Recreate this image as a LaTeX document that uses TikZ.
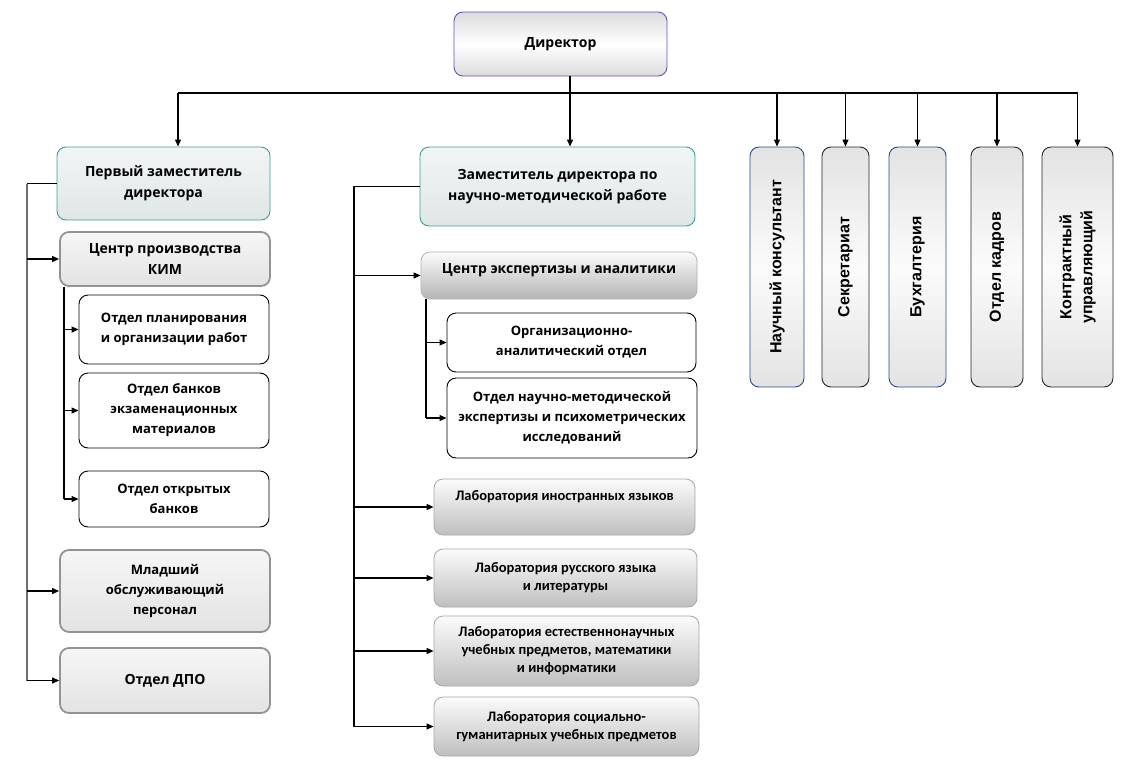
\documentclass[tikz,border=0pt]{standalone}
\usepackage{fontspec}
\setmainfont{Open Sans}
\newfontfamily\calfont{Carlito}
\newfontfamily\arialfont{Liberation Sans}
\usetikzlibrary{arrows.meta}
\definecolor{purp}{HTML}{6A4FB0}
\definecolor{teal2}{HTML}{3E9E9B}
\definecolor{navy}{HTML}{2B4A86}
\definecolor{busgray}{HTML}{707070}
\definecolor{deptop}{HTML}{F1F5F5}
\definecolor{depbot}{HTML}{E0E6E6}
\tikzset{
  base/.style={rounded corners=9pt, align=center, inner sep=2pt, font=\bfseries\fontsize{14}{21}\selectfont},
  dirbox/.style={base, draw=purp, line width=0.9pt, top color=gray!28, bottom color=gray!28, middle color=white},
  depbox/.style={base, draw=teal2, line width=0.9pt, top color=deptop, bottom color=depbot},
  gbox/.style={base, draw=gray!85, line width=1.8pt, top color=gray!7, bottom color=gray!22},
  wbox/.style={base, draw=black, line width=0.9pt, fill=white, font=\bfseries\fontsize{13}{20}\selectfont},
  labbox/.style={base, draw=gray!70, line width=0.8pt, top color=gray!3, bottom color=gray!50, font=\calfont\bfseries\fontsize{14.5}{18}\selectfont},
  vbox/.style={base, rotate=90, line width=0.9pt, minimum width=240pt, top color=gray!22, bottom color=gray!22, middle color=gray!3, font=\arialfont\bfseries\fontsize{16}{21}\selectfont},
  arr/.style={-{Triangle[length=7pt,width=6pt]}, line width=1.1pt},
  ln/.style={line width=1.1pt}
}
\begin{document}
\begin{tikzpicture}[x=1pt,y=-1pt]
\useasboundingbox (0,0) rectangle (1128,772);
% top
\node[dirbox, minimum width=213pt, minimum height=64pt] (dir) at (560.5,44) {Директор};
% first deputy branch
\node[depbox, minimum width=213pt, minimum height=73pt] (dep1) at (163.5,183.5) {Первый заместитель\\директора};
\node[gbox, minimum width=210pt, minimum height=54pt] (kim) at (165,259) {Центр производства\\КИМ};
\node[wbox, minimum width=190pt, minimum height=69pt] (plan) at (174,329.5) {Отдел планирования\\и организации работ};
\node[wbox, minimum width=190pt, minimum height=75pt] (bank) at (174,410.5) {Отдел банков\\экзаменационных\\материалов};
\node[wbox, minimum width=190pt, minimum height=56pt] (open) at (174,499) {Отдел открытых\\банков};
\node[gbox, minimum width=210pt, minimum height=82pt, font=\bfseries\fontsize{13}{20}\selectfont] (mlad) at (165,591) {Младший\\обслуживающий\\персонал};
\node[gbox, minimum width=210pt, minimum height=65pt] (dpo) at (165,680.5) {Отдел ДПО};
% second deputy branch
\node[depbox, minimum width=275pt, minimum height=79pt] (dep2) at (557.5,186.5) {Заместитель директора по\\научно-методической работе};
\node[labbox, draw=gray!60, bottom color=gray!58, font=\bfseries\fontsize{14}{20}\selectfont, minimum width=276pt, minimum height=47pt] (cexp) at (559,275.5) {\raisebox{2pt}[0pt][0pt]{Центр экспертизы и аналитики}};
\node[wbox, minimum width=249pt, minimum height=59pt] (org) at (571.5,342.5) {Организационно-\\аналитический отдел};
\node[wbox, minimum width=250pt, minimum height=80pt] (nm) at (572,418) {Отдел научно-методической\\экспертизы и психометрических\\исследований};
\node[labbox, minimum width=261pt, minimum height=56pt] (lab1) at (564.5,507) {\raisebox{7pt}[0pt][0pt]{Лаборатория иностранных языков}};
\node[labbox, minimum width=263pt, minimum height=58pt] (lab2) at (565.5,578) {Лаборатория русского языка\\и литературы};
\node[labbox, minimum width=265pt, minimum height=70pt] (lab3) at (566.5,651) {Лаборатория естественнонаучных\\учебных предметов, математики\\и информатики};
\node[labbox, minimum width=265pt, minimum height=59pt] (lab4) at (566.5,726.5) {Лаборатория социально-\\гуманитарных учебных предметов};
% vertical boxes
\node[vbox, draw=navy, minimum height=54pt] (v1) at (777,267) {Научный консультант};
\node[vbox, draw=black!85, minimum height=47pt] (v2) at (845.5,267) {Секретариат};
\node[vbox, draw=navy, minimum height=57pt] (v3) at (917.5,267) {Бухгалтерия};
\node[vbox, draw=black!85, minimum height=52pt] (v4) at (997,267) {Отдел кадров};
\node[vbox, draw=black!85, minimum height=71pt] (v5) at (1077.5,267) {Контрактный\\управляющий};
% bus
\coordinate (busL) at (178,93);
\coordinate (busR) at (1077.5,93);
\coordinate (c2) at (570,93);
\draw[ln] (busL) -- (busR);
\draw[ln] (c2 |- dir.south) -- (c2);
\draw[arr] (busL) -- (busL |- dep1.north);
\draw[arr] (c2) -- (c2 |- dep2.north);
\foreach \v in {v1,v2,v3,v4,v5}{\draw[arr] (\v.east |- busL) -- (\v.east);}
% left bus
\coordinate (lb) at (27,0);
\draw[ln, busgray] (dep1.west -| lb) -- (dpo.west -| lb);
\draw[ln] (dep1.west) -- (dep1.west -| lb);
\foreach \n in {kim,mlad,dpo}{\draw[arr] (\n.west -| lb) -- (\n.west);}
\coordinate (sb) at (64,0);
\draw[ln] (kim.south -| sb) -- (open.west -| sb);
\foreach \n in {plan,bank,open}{\draw[arr] (\n.west -| sb) -- (\n.west);}
% right bus
\coordinate (rb) at (354,0);
\draw[ln] (dep2.west) -- (dep2.west -| rb) -- (lab4.west -| rb);
\foreach \n in {cexp,lab1,lab2,lab3,lab4}{\draw[arr] (\n.west -| rb) -- (\n.west);}
\coordinate (sb2) at (426,0);
\draw[ln] (cexp.south -| sb2) -- (nm.west -| sb2);
\foreach \n in {org,nm}{\draw[arr] (\n.west -| sb2) -- (\n.west);}
\end{tikzpicture}
\end{document}
